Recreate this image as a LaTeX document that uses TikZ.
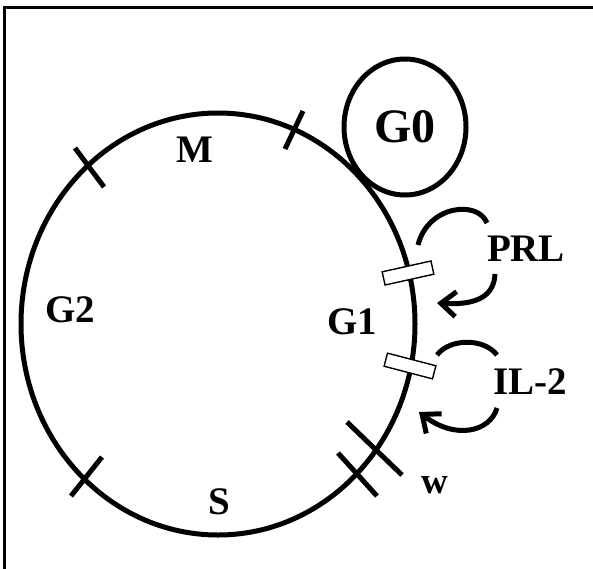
\documentclass[tikz,border=0pt]{standalone}
\usepackage{fontspec}
\setmainfont{Liberation Serif}
\usetikzlibrary{arrows.meta,shapes.geometric}
\begin{document}
\begin{tikzpicture}[x=1pt,y=-1pt,
  lbl/.style={font=\fontsize{39}{39}\selectfont\bfseries, inner sep=0pt},
  phase/.style={ellipse, draw, line width=5pt, inner sep=0pt},
  tickmark/.style={line width=5pt},
  receptor/.style={draw, fill=white, line width=1.4pt, minimum width=50pt, minimum height=13.5pt, inner sep=0pt},
  loopline/.style={line width=5pt},
  arr/.style={line width=5pt, -{Straight Barb[length=15pt,width=25pt]}}
]
\useasboundingbox (0,0) rectangle (593,568);
\clip (0,0) rectangle (593,568);
% frame
\draw[line width=2.5pt] (4.5,600) -- (4.5,7.5) -- (620,7.5);
% cell cycle
\node[phase, minimum width=394pt, minimum height=422pt] (cycle) at (218,324) {};
\node[phase, minimum width=122pt, minimum height=136pt, font=\fontsize{48}{48}\selectfont\bfseries] (g0) at (405,127) {G0};
% phase boundaries
\draw[tickmark] (75,148) -- (104,187);
\draw[tickmark] (303,111) -- (285,149);
\draw[tickmark] (102,457) -- (71,496);
\draw[tickmark] (338,453) -- (377,496);
\draw[tickmark] (347,422) -- (402,475);
% labels
\node[lbl] (m) at (195,150) {M};
\node[lbl] (g2) at (70,310) {G2};
\node[lbl] (g1) at (352,322) {G1};
\node[lbl] (s) at (219,502) {S};
\node[font=\fontsize{37}{37}\selectfont\bfseries, inner sep=0pt] (w) at (435,485) {w};
\node[lbl] (prl) at (526,249) {PRL};
\node[lbl] (il2) at (530,382) {IL-2};
% receptors
\node[receptor, rotate=12.5] (r1) at (408,273) {};
\node[receptor, rotate=-14.6] (r2) at (410,366) {};
% ligand loops
\coordinate (p1) at (418,245);
\coordinate (p2) at (487,223);
\coordinate (p3) at (495,274);
\coordinate (p4) at (437,303);
\draw[loopline] (p1) .. controls (428,205) and (478,200) .. (p2);
\draw[arr] (p3) .. controls (494,300) and (470,305) .. (p4);
\coordinate (q1) at (437,355);
\coordinate (q2) at (497,355);
\coordinate (q3) at (497,408);
\coordinate (q4) at (419,412);
\draw[loopline] (q1) .. controls (450,338) and (484,338) .. (q2);
\draw[arr] (q3) .. controls (490,432) and (455,440) .. (q4);
\end{tikzpicture}
\end{document}
